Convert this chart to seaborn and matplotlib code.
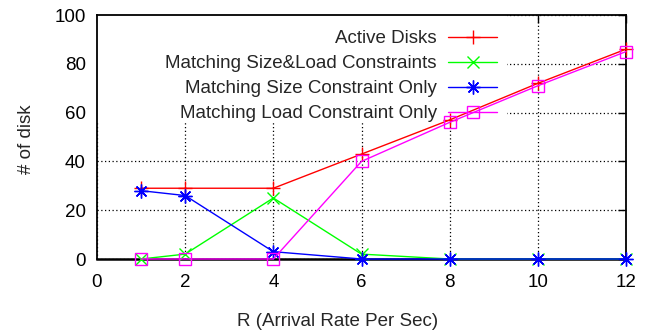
import numpy as np
import pandas as pd
import matplotlib
matplotlib.use("Agg")
import matplotlib.pyplot as plt
from matplotlib.patches import Rectangle
import seaborn as sns

# Arrival rates (requests per second)
rates = [1, 2, 4, 6, 8, 10, 12]

active_disks = [29, 29, 29, 43, 57, 72, 86]
size_load = [0, 2, 25, 2, 0, 0, 0]
size_only = [28, 26, 3, 0, 0, 0, 0]
load_only = [0, 0, 0, 40, 56, 71, 85]

labels = [
    "Active Disks",
    "Matching Size&Load Constraints",
    "Matching Size Constraint Only",
    "Matching Load Constraint Only",
]
series = [active_disks, size_load, size_only, load_only]
colors = ["#ff0000", "#00ff00", "#0000ff", "#ff00ff"]
markers = ["+", "x", (8, 2, 0), "s"]
msizes = [10, 9, 10, 9]

x_ticks = [0, 2, 4, 6, 8, 10, 12]
y_ticks = [0, 20, 40, 60, 80, 100]

sns.set_style("white")
plt.rcParams["font.family"] = ["Liberation Sans", "DejaVu Sans"]
plt.rcParams["font.size"] = 13.5

fig = plt.figure(figsize=(6.55, 3.35), dpi=100)
ax = fig.add_axes([97 / 655, 1 - 259 / 335, 529 / 655, 244 / 335])

for lab, vals, col, mk, ms in zip(labels, series, colors, markers, msizes):
    df = pd.DataFrame({"R": rates, "n": vals})
    sns.lineplot(
        data=df, x="R", y="n", ax=ax, label=lab, color=col,
        marker=mk, markersize=ms, mec=col, mfc="none", mew=1.0,
        linewidth=1.0, clip_on=False, zorder=3,
    )

ax.set_xlim(0, 12)
ax.set_ylim(0, 100)
ax.set_xticks(x_ticks)
ax.set_yticks(y_ticks)

# dotted grid, kept behind everything
ax.set_axisbelow(True)
ax.grid(True, linestyle=(0, (1, 2)), color="black", linewidth=0.9)

# opaque key area hides the grid behind the legend text
ax.add_patch(Rectangle((0, 0.566), 0.775, 0.434, transform=ax.transAxes,
                       facecolor="white", edgecolor="none", zorder=1))

for s in ax.spines.values():
    s.set_color("black")
    s.set_linewidth(1.3)
ax.spines["bottom"].set_linewidth(1.8)

ax.tick_params(axis="both", which="both", direction="in", length=6, width=1.0,
               top=True, right=True, colors="black", labelsize=13.5)
ax.tick_params(axis="x", pad=11)
ax.tick_params(axis="y", pad=8)

ax.set_xlabel("R (Arrival Rate Per Sec)", fontsize=13.5)
ax.set_ylabel("# of disk", fontsize=13.5)
ax.xaxis.set_label_coords(0.454, -0.257)
ax.yaxis.set_label_coords(-0.134, 0.49)
ax.xaxis.label.set_va("center")
ax.yaxis.label.set_va("center")

leg = ax.legend(
    loc="upper right", bbox_to_anchor=(497 / 655, 1 - 30 / 335),
    bbox_transform=fig.transFigure, frameon=False, markerfirst=False,
    alignment="right", handlelength=2.6, handletextpad=0.6,
    labelspacing=0.42, borderpad=0, borderaxespad=0, fontsize=13.5,
)
for t in leg.get_texts():
    t.set_ha("right")

fig.savefig("out.png", dpi=100)
